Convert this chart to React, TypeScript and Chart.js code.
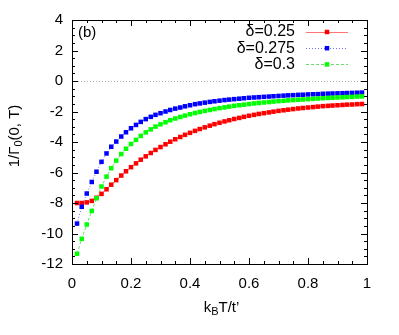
import React, { useEffect, useRef } from "react";
import { Chart, registerables } from "chart.js";
Chart.register(...registerables);

const xValues = [
  0.017, 0.033, 0.05, 0.067, 0.083, 0.1, 0.117, 0.133, 0.15, 0.167,
  0.183, 0.2, 0.217, 0.233, 0.25, 0.267, 0.283, 0.3, 0.317, 0.333,
  0.35, 0.367, 0.383, 0.4, 0.417, 0.433, 0.45, 0.467, 0.483, 0.5,
  0.517, 0.533, 0.55, 0.567, 0.583, 0.6, 0.617, 0.633, 0.65, 0.667,
  0.683, 0.7, 0.717, 0.733, 0.75, 0.767, 0.783, 0.8, 0.817, 0.833,
  0.85, 0.867, 0.883, 0.9, 0.917, 0.933, 0.95, 0.967, 0.983,
];

const delta025 = [
  -8.0, -8.0, -7.96, -7.86, -7.66, -7.4, -7.1, -6.8, -6.5, -6.2,
  -5.92, -5.65, -5.4, -5.16, -4.94, -4.72, -4.52, -4.33, -4.15, -3.98,
  -3.82, -3.67, -3.53, -3.4, -3.27, -3.15, -3.04, -2.93, -2.83, -2.74,
  -2.65, -2.57, -2.49, -2.42, -2.35, -2.28, -2.22, -2.16, -2.11, -2.06,
  -2.01, -1.96, -1.92, -1.88, -1.84, -1.8, -1.77, -1.74, -1.71, -1.68,
  -1.65, -1.63, -1.61, -1.59, -1.57, -1.55, -1.54, -1.52, -1.51,
];

const delta0275 = [
  -9.35, -8.25, -7.38, -6.62, -5.95, -5.3, -4.75, -4.31, -3.97, -3.64,
  -3.36, -3.1, -2.88, -2.68, -2.5, -2.35, -2.22, -2.11, -2.0, -1.9,
  -1.81, -1.74, -1.66, -1.59, -1.52, -1.47, -1.42, -1.37, -1.33, -1.29,
  -1.25, -1.22, -1.19, -1.16, -1.13, -1.1, -1.08, -1.06, -1.04, -1.02,
  -1.0, -0.98, -0.96, -0.94, -0.93, -0.91, -0.9, -0.88, -0.87, -0.86,
  -0.84, -0.83, -0.82, -0.81, -0.8, -0.79, -0.78, -0.77, -0.76,
];

const delta03 = [
  -11.33, -10.35, -9.41, -8.52, -7.69, -6.92, -6.27, -5.72, -5.22, -4.79,
  -4.44, -4.13, -3.86, -3.6, -3.37, -3.17, -2.99, -2.84, -2.7, -2.57,
  -2.46, -2.36, -2.27, -2.18, -2.1, -2.03, -1.96, -1.9, -1.84, -1.78,
  -1.73, -1.68, -1.63, -1.59, -1.55, -1.51, -1.47, -1.44, -1.41, -1.38,
  -1.35, -1.32, -1.3, -1.27, -1.25, -1.23, -1.21, -1.19, -1.17, -1.15,
  -1.13, -1.11, -1.1, -1.08, -1.07, -1.05, -1.04, -1.02, -1.01,
];

const seriesLabels = ["δ=0.25", "δ=0.275", "δ=0.3"];
const panelLabel = "(b)";
const xRange = [0, 1];
const yRange = [-12, 4];

const FONT = "'Liberation Sans', Arial, Helvetica, sans-serif";
const FS = 15;

export default function App() {
  const ref = useRef<HTMLCanvasElement>(null);

  useEffect(() => {
    const canvas = ref.current;
    if (!canvas) return;

    const styles = [
      { point: "#ff0000", line: "rgba(255,0,0,0.55)", dash: [] as number[] },
      { point: "#0000ff", line: "rgba(0,0,255,0.55)", dash: [1, 2] },
      { point: "#00ff00", line: "rgba(0,200,0,0.6)", dash: [3, 2] },
    ];
    const values = [delta025, delta0275, delta03];

    const datasets = values.map((vals, i) => ({
      label: seriesLabels[i],
      data: vals.map((y, j) => ({ x: xValues[j], y })),
      showLine: true,
      borderColor: styles[i].line,
      borderWidth: 1,
      borderDash: styles[i].dash,
      pointStyle: "rect" as const,
      pointRadius: 3.2,
      pointBorderWidth: 0,
      pointBackgroundColor: styles[i].point,
      pointBorderColor: styles[i].point,
      order: 3 - i,
    }));

    const decor = {
      id: "decor",
      beforeDatasetsDraw(chart: any) {
        const { ctx, chartArea: a, scales } = chart;
        const y0 = scales.y.getPixelForValue(0);
        ctx.save();
        ctx.strokeStyle = "#b0b0b0";
        ctx.lineWidth = 1;
        ctx.setLineDash([1, 2]);
        ctx.beginPath();
        ctx.moveTo(a.left, Math.round(y0) + 0.5);
        ctx.lineTo(a.right, Math.round(y0) + 0.5);
        ctx.stroke();
        ctx.restore();
      },
      afterDatasetsDraw(chart: any) {
        const { ctx, chartArea: a, scales } = chart;
        ctx.save();
        ctx.strokeStyle = "#000";
        ctx.lineWidth = 1;
        ctx.setLineDash([]);
        ctx.strokeRect(Math.round(a.left) + 0.5, Math.round(a.top) + 0.5,
          Math.round(a.right - a.left), Math.round(a.bottom - a.top));
        ctx.beginPath();
        for (let k = 0; k <= 20; k++) {
          const v = k * 0.05;
          const len = k % 4 === 0 ? 6 : 3;
          const px = Math.round(scales.x.getPixelForValue(v)) + 0.5;
          ctx.moveTo(px, a.bottom); ctx.lineTo(px, a.bottom - len);
          ctx.moveTo(px, a.top); ctx.lineTo(px, a.top + len);
        }
        for (let k = -24; k <= 8; k++) {
          const v = k * 0.5;
          const len = k % 4 === 0 ? 6 : 3;
          const py = Math.round(scales.y.getPixelForValue(v)) + 0.5;
          ctx.moveTo(a.left, py); ctx.lineTo(a.left + len, py);
          ctx.moveTo(a.right, py); ctx.lineTo(a.right - len, py);
        }
        ctx.stroke();

        ctx.fillStyle = "#000";
        ctx.font = `${FS}px ${FONT}`;
        ctx.textBaseline = "middle";
        ctx.textAlign = "left";
        ctx.fillText(panelLabel, a.left + 6, a.top + 13);

        const textRight = 295;
        const lineL = 306, lineR = 348, mark = 327;
        ctx.font = `${FS + 1}px ${FONT}`;
        for (let i = 0; i < 3; i++) {
          const yy = 32 + i * 16.2;
          ctx.textAlign = "right";
          ctx.fillStyle = "#000";
          ctx.fillText(seriesLabels[i], textRight, yy);
          ctx.strokeStyle = styles[i].line;
          ctx.setLineDash(styles[i].dash);
          ctx.beginPath();
          ctx.moveTo(lineL, Math.round(yy) + 0.5);
          ctx.lineTo(lineR, Math.round(yy) + 0.5);
          ctx.stroke();
          ctx.setLineDash([]);
          ctx.fillStyle = styles[i].point;
          ctx.fillRect(mark - 2.25, yy - 2.25, 4.5, 4.5);
        }

        const sub = `${Math.round(FS * 0.72)}px ${FONT}`;
        const main = `${FS}px ${FONT}`;
        const drawParts = (cx: number, cy: number, ps: any[]) => {
          let w = 0;
          for (const p of ps) { ctx.font = p.f; w += ctx.measureText(p.t).width; }
          let x = cx - w / 2;
          ctx.textAlign = "left";
          ctx.fillStyle = "#000";
          for (const p of ps) {
            ctx.font = p.f;
            ctx.fillText(p.t, x, cy + p.dy);
            x += ctx.measureText(p.t).width;
          }
        };
        drawParts((a.left + a.right) / 2 + 2, 308, [
          { t: "k", f: main, dy: 0 },
          { t: "B", f: sub, dy: 4 },
          { t: "T/t’", f: main, dy: 0 },
        ]);

        ctx.save();
        ctx.translate(15, 136);
        ctx.rotate(-Math.PI / 2);
        drawParts(0, 0, [
          { t: "1/Γ", f: main, dy: 0 },
          { t: "0", f: sub, dy: 4 },
          { t: "(0, T)", f: main, dy: 0 },
        ]);
        ctx.restore();
        ctx.restore();
      },
    };

    const chart = new Chart(canvas, {
      type: "scatter",
      data: { datasets },
      options: {
        responsive: false,
        animation: false,
        devicePixelRatio: 1,
        layout: { padding: { top: 20, right: 32, left: 0, bottom: 0 } },
        plugins: { legend: { display: false }, tooltip: { enabled: false } },
        scales: {
          x: {
            type: "linear",
            min: xRange[0],
            max: xRange[1],
            grid: { display: false, drawTicks: false },
            border: { display: false },
            ticks: {
              stepSize: 0.2,
              color: "#000",
              font: { family: FONT, size: FS },
              padding: 11,
              maxRotation: 0,
              callback: (v: any) => String(Number(Number(v).toFixed(2))),
            },
            afterFit: (s: any) => { s.height = 71; },
          },
          y: {
            type: "linear",
            min: yRange[0],
            max: yRange[1],
            grid: { display: false, drawTicks: false },
            border: { display: false },
            ticks: {
              stepSize: 2,
              color: "#000",
              font: { family: FONT, size: FS },
              padding: 9,
            },
            afterFit: (s: any) => { s.width = 72; },
          },
        },
      },
      plugins: [decor],
    });
    return () => chart.destroy();
  }, []);

  return (
    <div style={{ position: "absolute", left: 0, top: 0, width: 399, height: 335, background: "#fff" }}>
      <canvas ref={ref} width={399} height={335} style={{ display: "block", width: 399, height: 335 }} />
    </div>
  );
}
